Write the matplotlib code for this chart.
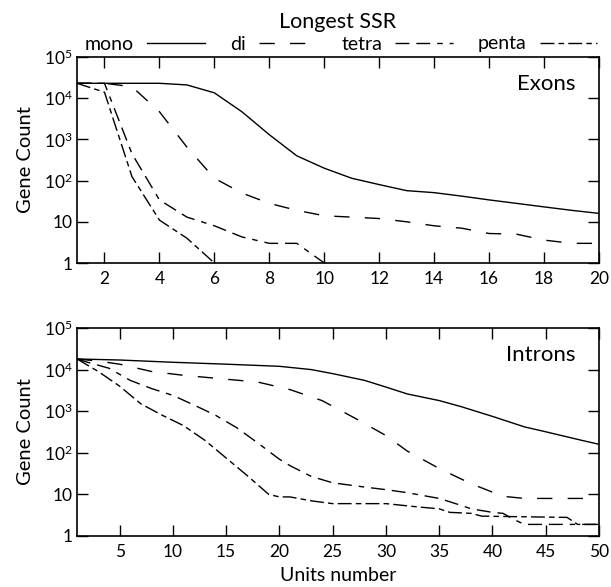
import matplotlib
matplotlib.use("Agg")
import matplotlib.pyplot as plt
from matplotlib.ticker import LogLocator, FixedLocator, FuncFormatter, NullFormatter
import numpy as np

plt.rcParams['font.family'] = ['Lato', 'DejaVu Sans']
plt.rcParams['mathtext.fontset'] = 'custom'
plt.rcParams['mathtext.rm'] = 'Lato'

# ---------------- Exons data ----------------
ex_mono_x = [1, 2, 3, 4, 5, 6, 7, 8, 9, 10, 11, 12, 13, 14, 15, 16, 17, 18, 19, 20]
ex_mono_y = [23000, 23000, 23000, 23000, 21000, 13500, 4700, 1300, 400, 200,
             114, 80, 57, 51, 42, 34, 28, 23, 19, 16]
ex_di_x = [1, 2, 3, 4, 5, 6, 7, 8, 9, 10, 11, 12, 13, 14, 15, 16, 17, 18, 19, 20]
ex_di_y = [23000, 23000, 19000, 4700, 650, 114, 50, 28, 19, 14,
           13, 12, 10, 8, 7, 5.2, 5, 3.6, 3, 3]
ex_tetra_x = [1, 2, 3, 4, 5, 6, 7, 8, 9, 10]
ex_tetra_y = [23000, 23000, 450, 34, 13, 8, 4.3, 3, 3, 1]
ex_penta_x = [1, 2, 3, 4, 5, 6]
ex_penta_y = [23000, 14000, 125, 11, 4, 1]

# ---------------- Introns data ----------------
in_mono_x = [1, 5, 10, 15, 20, 23, 25, 28, 30, 32, 35, 37, 40, 43, 45, 48, 50]
in_mono_y = [18000, 17000, 15000, 13500, 12000, 10000, 8000, 5500, 3800, 2600,
             1800, 1300, 750, 420, 320, 210, 160]
in_di_x = [1, 3, 5, 8, 11, 14, 18, 21, 24, 27, 30, 32, 35, 38, 41, 43, 50]
in_di_y = [18000, 16000, 13500, 9000, 7300, 6200, 5000, 3300, 1800, 700,
           260, 110, 42, 18, 9, 8, 8]
in_tetra_x = [1, 2, 4, 6, 8, 10, 12, 14, 16, 18, 20, 21, 23, 25, 28, 30, 32,
              35, 37, 38, 40, 41, 42, 43, 47, 50]
in_tetra_y = [18000, 15000, 10800, 5500, 3500, 2400, 1400, 800, 400, 170, 70,
              49, 27, 19, 15, 13, 11, 8, 5.5, 4.5, 3.7, 3.5, 2.5, 1.9, 1.9, 1.9]
in_penta_x = [1, 3, 5, 7, 9, 11, 13, 15, 17, 19, 20, 21, 23, 25, 30, 33, 35,
              36, 38, 39, 47, 48, 50]
in_penta_y = [18000, 9000, 4000, 1500, 800, 450, 200, 75, 28, 10, 8.7, 8.7,
              7, 6, 6, 5, 4.5, 3.7, 3.5, 3, 2.8, 1.9, 1.9]

series_names = ['mono', 'di', 'tetra', 'penta']
dash_styles = {
    'mono': '-',
    'di': (0, (11, 11)),
    'tetra': (0, (10, 5, 10, 5, 4, 5)),
    'penta': (0, (10, 3, 4, 3)),
}

fig = plt.figure(figsize=(6.11, 5.87), dpi=100)
W, H = 611, 587
ax1 = fig.add_axes([77 / W, 1 - 263 / H, 522 / W, 206 / H])
ax2 = fig.add_axes([77 / W, 1 - 536 / H, 522 / W, 208 / H])

lw = 1.0

def draw(ax, data):
    handles = []
    for name, (x, y) in zip(series_names, data):
        h, = ax.plot(x, y, color='black', lw=lw, ls=dash_styles[name], label=name)
        handles.append(h)
    return handles

handles = draw(ax1, [(ex_mono_x, ex_mono_y), (ex_di_x, ex_di_y),
                     (ex_tetra_x, ex_tetra_y), (ex_penta_x, ex_penta_y)])
draw(ax2, [(in_mono_x, in_mono_y), (in_di_x, in_di_y),
           (in_tetra_x, in_tetra_y), (in_penta_x, in_penta_y)])

def ylab(v, pos):
    if v == 1:
        return '1'
    if v == 10:
        return '10'
    e = int(round(np.log10(v)))
    return r'$\mathregular{10^{%d}}$' % e

for ax in (ax1, ax2):
    ax.set_yscale('log')
    ax.set_ylim(1, 1e5)
    ax.yaxis.set_major_locator(FixedLocator([1, 10, 100, 1e3, 1e4, 1e5]))
    ax.yaxis.set_major_formatter(FuncFormatter(ylab))
    ax.yaxis.set_minor_locator(LogLocator(base=10, subs=(2.0, 5.0)))
    ax.yaxis.set_minor_formatter(NullFormatter())
    ax.tick_params(axis='both', which='major', direction='in', length=8,
                   width=1.0, top=True, right=True, labelsize=12.5)
    ax.tick_params(axis='y', which='major', pad=3)
    ax.tick_params(axis='x', which='major', pad=6)
    ax.tick_params(axis='both', which='minor', direction='in', length=5,
                   width=1.0, top=False, right=True)
    ax.tick_params(axis='x', which='minor', bottom=False, top=False)
    for s in ax.spines.values():
        s.set_linewidth(1.2)
    ax.set_ylabel('Gene Count', fontsize=14.5, labelpad=7)

ax1.set_xlim(1, 20)
ax1.set_xticks([2, 4, 6, 8, 10, 12, 14, 16, 18, 20])
ax2.set_xlim(1, 50)
ax2.set_xticks([5, 10, 15, 20, 25, 30, 35, 40, 45, 50])
ax2.set_xlabel('Units number', fontsize=14, labelpad=5)

ax1.text(0.955, 0.87, 'Exons', transform=ax1.transAxes, ha='right',
         va='center', fontsize=16)
ax2.text(0.955, 0.87, 'Introns', transform=ax2.transAxes, ha='right',
         va='center', fontsize=16)

fig.text(338 / W, 1 - 22 / H, 'Longest SSR', ha='center', va='center',
         fontsize=15.5)
leg = fig.legend(handles=handles, labels=series_names, loc='center',
                 bbox_to_anchor=(341 / W, 1 - 44 / H), ncol=4, frameon=False,
                 markerfirst=False, fontsize=14,
                 handlelength=2.95, columnspacing=1.3,
                 handletextpad=0.67, borderpad=0.0, borderaxespad=0.0)

fig.savefig('out.png', dpi=100)
